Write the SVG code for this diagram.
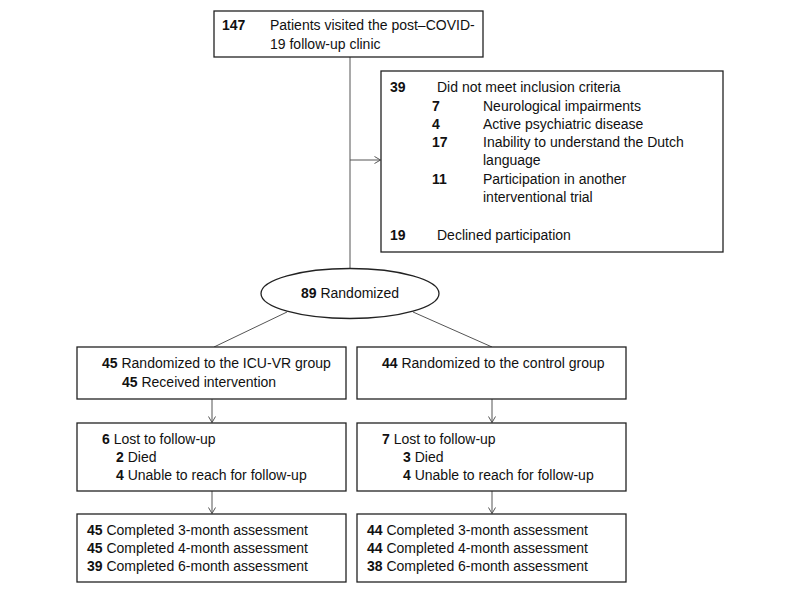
<svg xmlns="http://www.w3.org/2000/svg" width="800" height="593" viewBox="0 0 800 593">
<defs>
<marker id="arr" markerUnits="userSpaceOnUse" markerWidth="10" markerHeight="10" refX="6.5" refY="4" orient="auto">
<path d="M0.5,0.5 L6.5,4 L0.5,7.5" fill="none" stroke="#555" stroke-width="1"/>
</marker>
<style>
.box{fill:#fff;stroke:#222;stroke-width:1.3}
.t{font-family:"Liberation Sans",Arial,sans-serif;font-size:14px;fill:#111}
.b{font-weight:bold}
.c{fill:none;stroke:#555;stroke-width:1}
</style>
</defs>
<rect width="800" height="593" fill="#fff"/>
<g id="connectors">
<line class="c" x1="350" y1="57" x2="350" y2="268.5"/>
<line class="c" x1="350" y1="160" x2="380.5" y2="160" marker-end="url(#arr)"/>
<line class="c" x1="287" y1="312" x2="214" y2="347"/>
<line class="c" x1="413" y1="312" x2="492" y2="347"/>
<line class="c" x1="212" y1="399" x2="212" y2="422.5" marker-end="url(#arr)"/>
<line class="c" x1="492" y1="399" x2="492" y2="422.5" marker-end="url(#arr)"/>
<line class="c" x1="212" y1="491" x2="212" y2="513.5" marker-end="url(#arr)"/>
<line class="c" x1="492" y1="491" x2="492" y2="513.5" marker-end="url(#arr)"/>
</g>
<g id="visited">
<rect class="box" x="214" y="11" width="269" height="46"/>
<text class="t b" x="222" y="30">147</text>
<text class="t" x="270" y="30">Patients visited the post–COVID-</text>
<text class="t" x="270" y="49">19 follow-up clinic</text>
</g>
<g id="excluded">
<rect class="box" x="381" y="71" width="342" height="181"/>
<text class="t b" x="390" y="92">39</text>
<text class="t" x="437" y="92">Did not meet inclusion criteria</text>
<text class="t b" x="432" y="111">7</text>
<text class="t" x="483" y="111">Neurological impairments</text>
<text class="t b" x="432" y="129">4</text>
<text class="t" x="483" y="129">Active psychiatric disease</text>
<text class="t b" x="432" y="147">17</text>
<text class="t" x="483" y="147">Inability to understand the Dutch</text>
<text class="t" x="483" y="165">language</text>
<text class="t b" x="432" y="184">11</text>
<text class="t" x="483" y="184">Participation in another</text>
<text class="t" x="483" y="202">interventional trial</text>
<text class="t b" x="390" y="240">19</text>
<text class="t" x="437" y="240">Declined participation</text>
</g>
<g id="randomized">
<ellipse cx="350" cy="293.5" rx="89" ry="25" fill="#fff" stroke="#222" stroke-width="1.3"/>
<text class="t" x="350" y="298" text-anchor="middle"><tspan class="b">89</tspan> Randomized</text>
</g>
<g id="icuvr">
<rect class="box" x="77" y="347" width="269" height="52"/>
<text class="t" x="102" y="368"><tspan class="b">45</tspan> Randomized to the ICU-VR group</text>
<text class="t" x="122" y="387"><tspan class="b">45</tspan> Received intervention</text>
</g>
<g id="control">
<rect class="box" x="357" y="347" width="269" height="52"/>
<text class="t" x="382" y="368"><tspan class="b">44</tspan> Randomized to the control group</text>
</g>
<g id="lost-icuvr">
<rect class="box" x="77" y="423" width="269" height="68"/>
<text class="t" x="102" y="444"><tspan class="b">6</tspan> Lost to follow-up</text>
<text class="t" x="116" y="462"><tspan class="b">2</tspan> Died</text>
<text class="t" x="116" y="480"><tspan class="b">4</tspan> Unable to reach for follow-up</text>
</g>
<g id="lost-control">
<rect class="box" x="357" y="423" width="269" height="68"/>
<text class="t" x="382" y="444"><tspan class="b">7</tspan> Lost to follow-up</text>
<text class="t" x="403" y="462"><tspan class="b">3</tspan> Died</text>
<text class="t" x="403" y="480"><tspan class="b">4</tspan> Unable to reach for follow-up</text>
</g>
<g id="completed-icuvr">
<rect class="box" x="77" y="514" width="269" height="68"/>
<text class="t" x="87" y="535"><tspan class="b">45</tspan> Completed 3-month assessment</text>
<text class="t" x="87" y="553"><tspan class="b">45</tspan> Completed 4-month assessment</text>
<text class="t" x="87" y="571"><tspan class="b">39</tspan> Completed 6-month assessment</text>
</g>
<g id="completed-control">
<rect class="box" x="357" y="514" width="269" height="68"/>
<text class="t" x="367" y="535"><tspan class="b">44</tspan> Completed 3-month assessment</text>
<text class="t" x="367" y="553"><tspan class="b">44</tspan> Completed 4-month assessment</text>
<text class="t" x="367" y="571"><tspan class="b">38</tspan> Completed 6-month assessment</text>
</g>
</svg>
